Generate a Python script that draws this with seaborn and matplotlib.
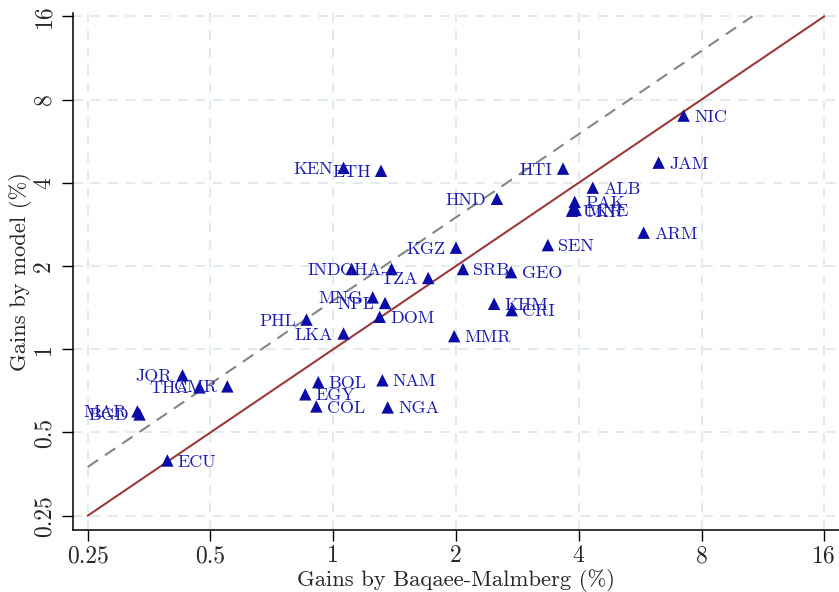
import numpy as np
import pandas as pd
import matplotlib
matplotlib.use("Agg")
import matplotlib.pyplot as plt
import seaborn as sns

# ---- data ----
countries = ["NIC", "JAM", "HTI", "ALB", "PAK", "UKR", "MNE", "ARM", "HND", "SEN",
             "KGZ", "SRB", "GEO", "KHM", "CRI", "MMR", "TZA", "GHA", "IND", "MNG",
             "NPL", "DOM", "LKA", "PHL", "KEN", "ETH", "JOR", "THA", "CMR", "MAR",
             "BGD", "ECU", "BOL", "EGY", "COL", "NAM", "NGA"]
gains_bm = [7.23, 6.28, 3.66, 4.33, 3.91, 3.85, 3.93, 5.77, 2.52, 3.36,
            2.00, 2.08, 2.73, 2.48, 2.74, 1.98, 1.71, 1.39, 1.11, 1.25,
            1.34, 1.30, 1.06, 0.86, 1.06, 1.31, 0.427, 0.470, 0.55, 0.331,
            0.335, 0.392, 0.919, 0.854, 0.909, 1.32, 1.36]
gains_model = [7.00, 4.73, 4.50, 3.84, 3.41, 3.17, 3.19, 2.64, 3.50, 2.38,
               2.33, 1.95, 1.90, 1.46, 1.385, 1.115, 1.81, 1.95, 1.95, 1.54,
               1.47, 1.31, 1.14, 1.28, 4.53, 4.42, 0.805, 0.728, 0.734, 0.596,
               0.581, 0.396, 0.76, 0.687, 0.621, 0.772, 0.616]
label_side = ["R", "R", "L", "R", "R", "R", "R", "R", "L", "R",
              "L", "R", "R", "R", "R", "R", "L", "L", "L", "L",
              "L", "R", "L", "L", "L", "L", "L", "L", "L", "L",
              "L", "R", "R", "R", "R", "R", "R"]

diag_x = [0.25, 16]          # 45-degree line
dashed_ratio = 1.5           # dashed line: model = 1.5 x BM
tick_vals = [0.25, 0.5, 1, 2, 4, 8, 16]
tick_labels = ["0.25", "0.5", "1", "2", "4", "8", "16"]

df = pd.DataFrame({"country": countries, "bm": gains_bm,
                   "model": gains_model, "side": label_side})

# ---- style ----
sns.set_theme(style="white")
plt.rcParams["font.family"] = ["cmr10", "DejaVu Serif"]
plt.rcParams["axes.formatter.use_mathtext"] = True

W, H = 839, 592
fig = plt.figure(figsize=(W / 100, H / 100), dpi=100)
ax = fig.add_axes([73.3 / W, (H - 530) / H, (W - 73.3) / W, (530 - 12.7) / H])

ax.set_xscale("log", base=2)
ax.set_yscale("log", base=2)

# grid
for v in tick_vals:
    ax.axvline(v, color="#e2ebeb", lw=1.4, ls=(0, (5, 4)), zorder=0)
    ax.axhline(v, color="#e2ebeb", lw=1.4, ls=(0, (5, 4)), zorder=0)

# 45 degree line
diag = pd.DataFrame({"x": diag_x, "y": diag_x})
sns.lineplot(data=diag, x="x", y="y", color="#9b3a3a", lw=1.5, ax=ax, zorder=2)

# dashed line
dx = [diag_x[0], diag_x[1] / dashed_ratio]
dash = pd.DataFrame({"x": dx, "y": [v * dashed_ratio for v in dx]})
sns.lineplot(data=dash, x="x", y="y", color="#858585", lw=1.5, ax=ax,
             linestyle=(0, (6, 4)), zorder=2)

# points
sns.scatterplot(data=df, x="bm", y="model", marker="^", s=80, color="#0b0ba5",
                edgecolor="none", linewidth=0, ax=ax, zorder=3)

for _, r in df.iterrows():
    if r["side"] == "R":
        ax.annotate(r["country"], (r["bm"], r["model"]), xytext=(7.5, -1),
                    textcoords="offset points", ha="left", va="center",
                    color="#1c1cb0", fontsize=13, zorder=4)
    else:
        ax.annotate(r["country"], (r["bm"], r["model"]), xytext=(-7.5, -1),
                    textcoords="offset points", ha="right", va="center",
                    color="#1c1cb0", fontsize=13, zorder=4)

ax.set_xlim(0.25 * 2 ** -0.1173, 0.25 * 2 ** 6.12)
ax.set_ylim(0.25 * 2 ** -0.1718, 0.25 * 2 ** 6.0435)
ax.minorticks_off()
ax.set_xticks(tick_vals)
ax.set_xticklabels(tick_labels)
ax.set_yticks(tick_vals)
ax.set_yticklabels(tick_labels, rotation=90, va="center")
ax.tick_params(axis="x", direction="out", length=8, width=1, color="black",
               labelsize=17, pad=3, bottom=True)
ax.tick_params(axis="y", direction="out", length=8, width=1, color="black",
               labelsize=17, pad=5, left=True)

for s in ["top", "right"]:
    ax.spines[s].set_visible(False)
for s in ["left", "bottom"]:
    ax.spines[s].set_color("black")
    ax.spines[s].set_linewidth(1.1)

ax.set_xlabel("Gains by Baqaee-Malmberg (%)", fontsize=16.3, labelpad=1)
ax.set_ylabel("Gains by model (%)", fontsize=16.3, labelpad=1)

fig.savefig("out.png", dpi=100)
